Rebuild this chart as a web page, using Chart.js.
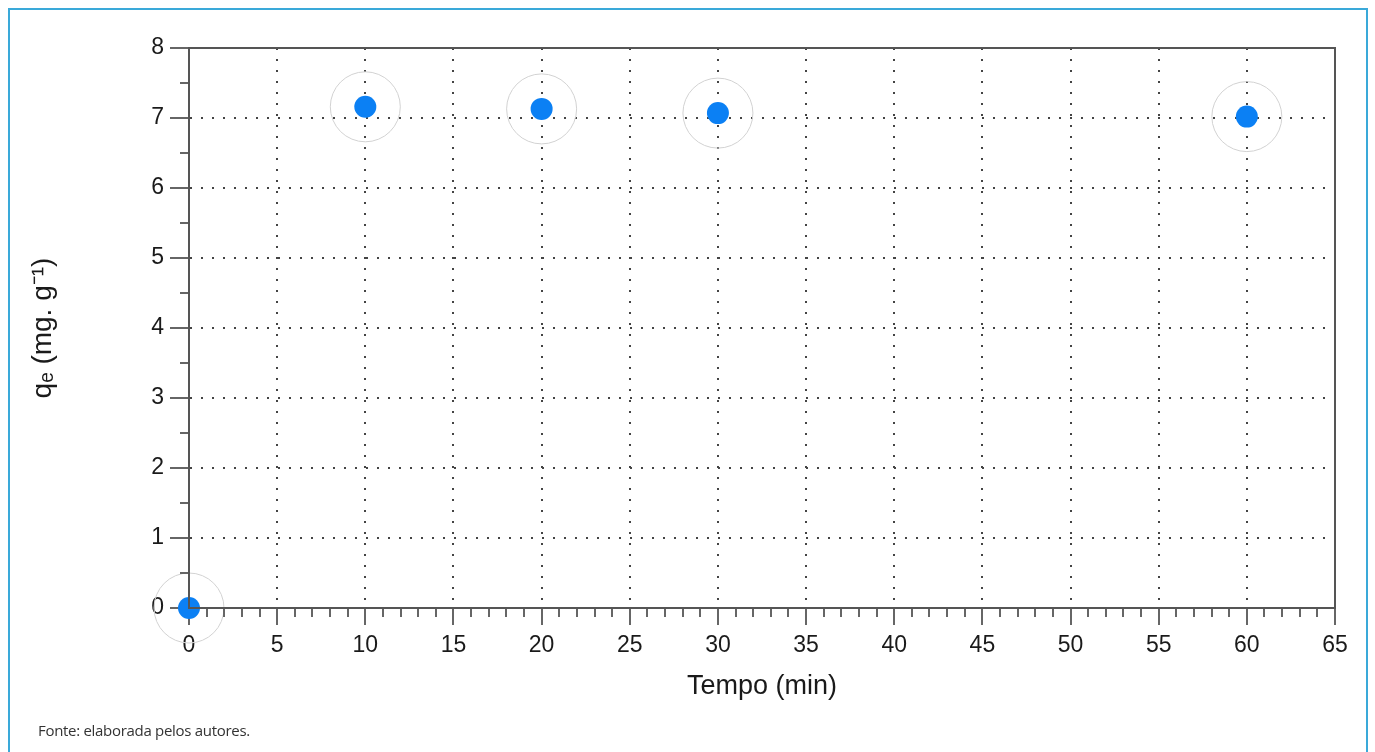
<!DOCTYPE html>
<html>
<head>
<meta charset="utf-8">
<script src="https://cdn.jsdelivr.net/npm/chart.js@4/dist/chart.umd.min.js"></script>
<style>
  html, body { margin: 0; padding: 0; background: #fff; overflow: hidden; }
  #frame {
    position: absolute; left: 8px; top: 8px; width: 1360px; height: 760px;
    border: 2px solid #3aa9d9; box-sizing: border-box;
  }
  #wrap { position: absolute; left: 0; top: 0; width: 1375px; height: 752px; }
  #note {
    position: absolute; left: 38px; top: 720px;
    font-family: "Open Sans", "Liberation Sans", sans-serif; font-size: 15px; color: #333;
    letter-spacing: -0.3px;
  }
</style>
</head>
<body>
<div id="frame"></div>
<div id="wrap"><canvas id="qeChart" width="1375" height="752"></canvas></div>
<div id="note">Fonte: elaborada pelos autores.</div>
<script>
// tempo (min) e qe (mg/g)
const tempo = [0, 10, 20, 30, 60];
const qe = [0, 7.16, 7.13, 7.07, 7.02];
const xTicks = [0, 5, 10, 15, 20, 25, 30, 35, 40, 45, 50, 55, 60, 65];
const yTicks = [0, 1, 2, 3, 4, 5, 6, 7, 8];

const pts = tempo.map((t, i) => ({ x: t, y: qe[i] }));
const tickFont = { family: "'Liberation Sans', Arial, sans-serif", size: 23 };
const titleFont = { family: "'Liberation Sans', Arial, sans-serif", size: 27 };

// frame + minor ticks
const extras = {
  id: "extras",
  afterDraw(chart) {
    const ctx = chart.ctx;
    const a = chart.chartArea;
    const xs = chart.scales.x, ys = chart.scales.y;
    ctx.save();
    ctx.strokeStyle = "#666";
    ctx.lineWidth = 2;
    ctx.beginPath();
    for (let v = 1; v < 65; v++) {
      if (v % 5 === 0) continue;
      const px = Math.round(xs.getPixelForValue(v));
      ctx.moveTo(px, a.bottom);
      ctx.lineTo(px, a.bottom + 9);
    }
    for (let v = 0.5; v < 8; v += 1) {
      const py = Math.round(ys.getPixelForValue(v));
      ctx.moveTo(a.left - 9, py);
      ctx.lineTo(a.left, py);
    }
    ctx.stroke();
    ctx.strokeStyle = "#555";
    ctx.strokeRect(a.left, a.top, a.right - a.left, a.bottom - a.top);
    ctx.restore();
  }
};

new Chart(document.getElementById("qeChart"), {
  type: "scatter",
  data: {
    datasets: [
      {
        data: pts,
        backgroundColor: "#0b80f4",
        borderWidth: 0,
        pointRadius: 11,
        pointHoverRadius: 11,
        clip: false
      },
      {
        data: pts,
        backgroundColor: "rgba(0,0,0,0)",
        borderColor: "#d2d2d2",
        borderWidth: 1,
        pointRadius: 35,
        pointHoverRadius: 35,
        clip: false
      }
    ]
  },
  options: {
    responsive: false,
    animation: false,
    events: [],
    layout: { padding: { top: 48, right: 40, left: 0, bottom: 0 } },
    plugins: { legend: { display: false }, tooltip: { enabled: false } },
    scales: {
      x: {
        type: "linear",
        min: 0, max: 65,
        afterBuildTicks: (s) => { s.ticks = xTicks.map(v => ({ value: v })); },
        afterFit: (s) => { s.height = 144; },
        border: { display: true, color: "#666", width: 2, dash: [2, 9] },
        grid: {
          color: "#444",
          lineWidth: 2,
          tickColor: "#666",
          tickWidth: 2,
          tickBorderDash: [],
          tickLength: 17
        },
        ticks: { color: "#1a1a1a", font: tickFont, padding: 7 },
        title: {
          display: true, text: "Tempo (min)", color: "#1a1a1a", font: titleFont,
          padding: { top: 4, bottom: 49 }
        }
      },
      y: {
        type: "linear",
        min: 0, max: 8,
        afterBuildTicks: (s) => { s.ticks = yTicks.map(v => ({ value: v })); },
        afterFit: (s) => { s.width = 189; },
        border: { display: true, color: "#666", width: 2, dash: [2, 9] },
        grid: {
          color: "#444",
          lineWidth: 2,
          tickColor: "#666",
          tickWidth: 2,
          tickBorderDash: [],
          tickLength: 19
        },
        ticks: { color: "#1a1a1a", font: tickFont, padding: 6 },
        title: {
          display: true, text: "qₑ (mg. g⁻¹)", color: "#1a1a1a",
          font: { family: titleFont.family, size: 28 },
          padding: { top: 26, bottom: 0 }
        }
      }
    }
  },
  plugins: [extras]
});
</script>
</body>
</html>
